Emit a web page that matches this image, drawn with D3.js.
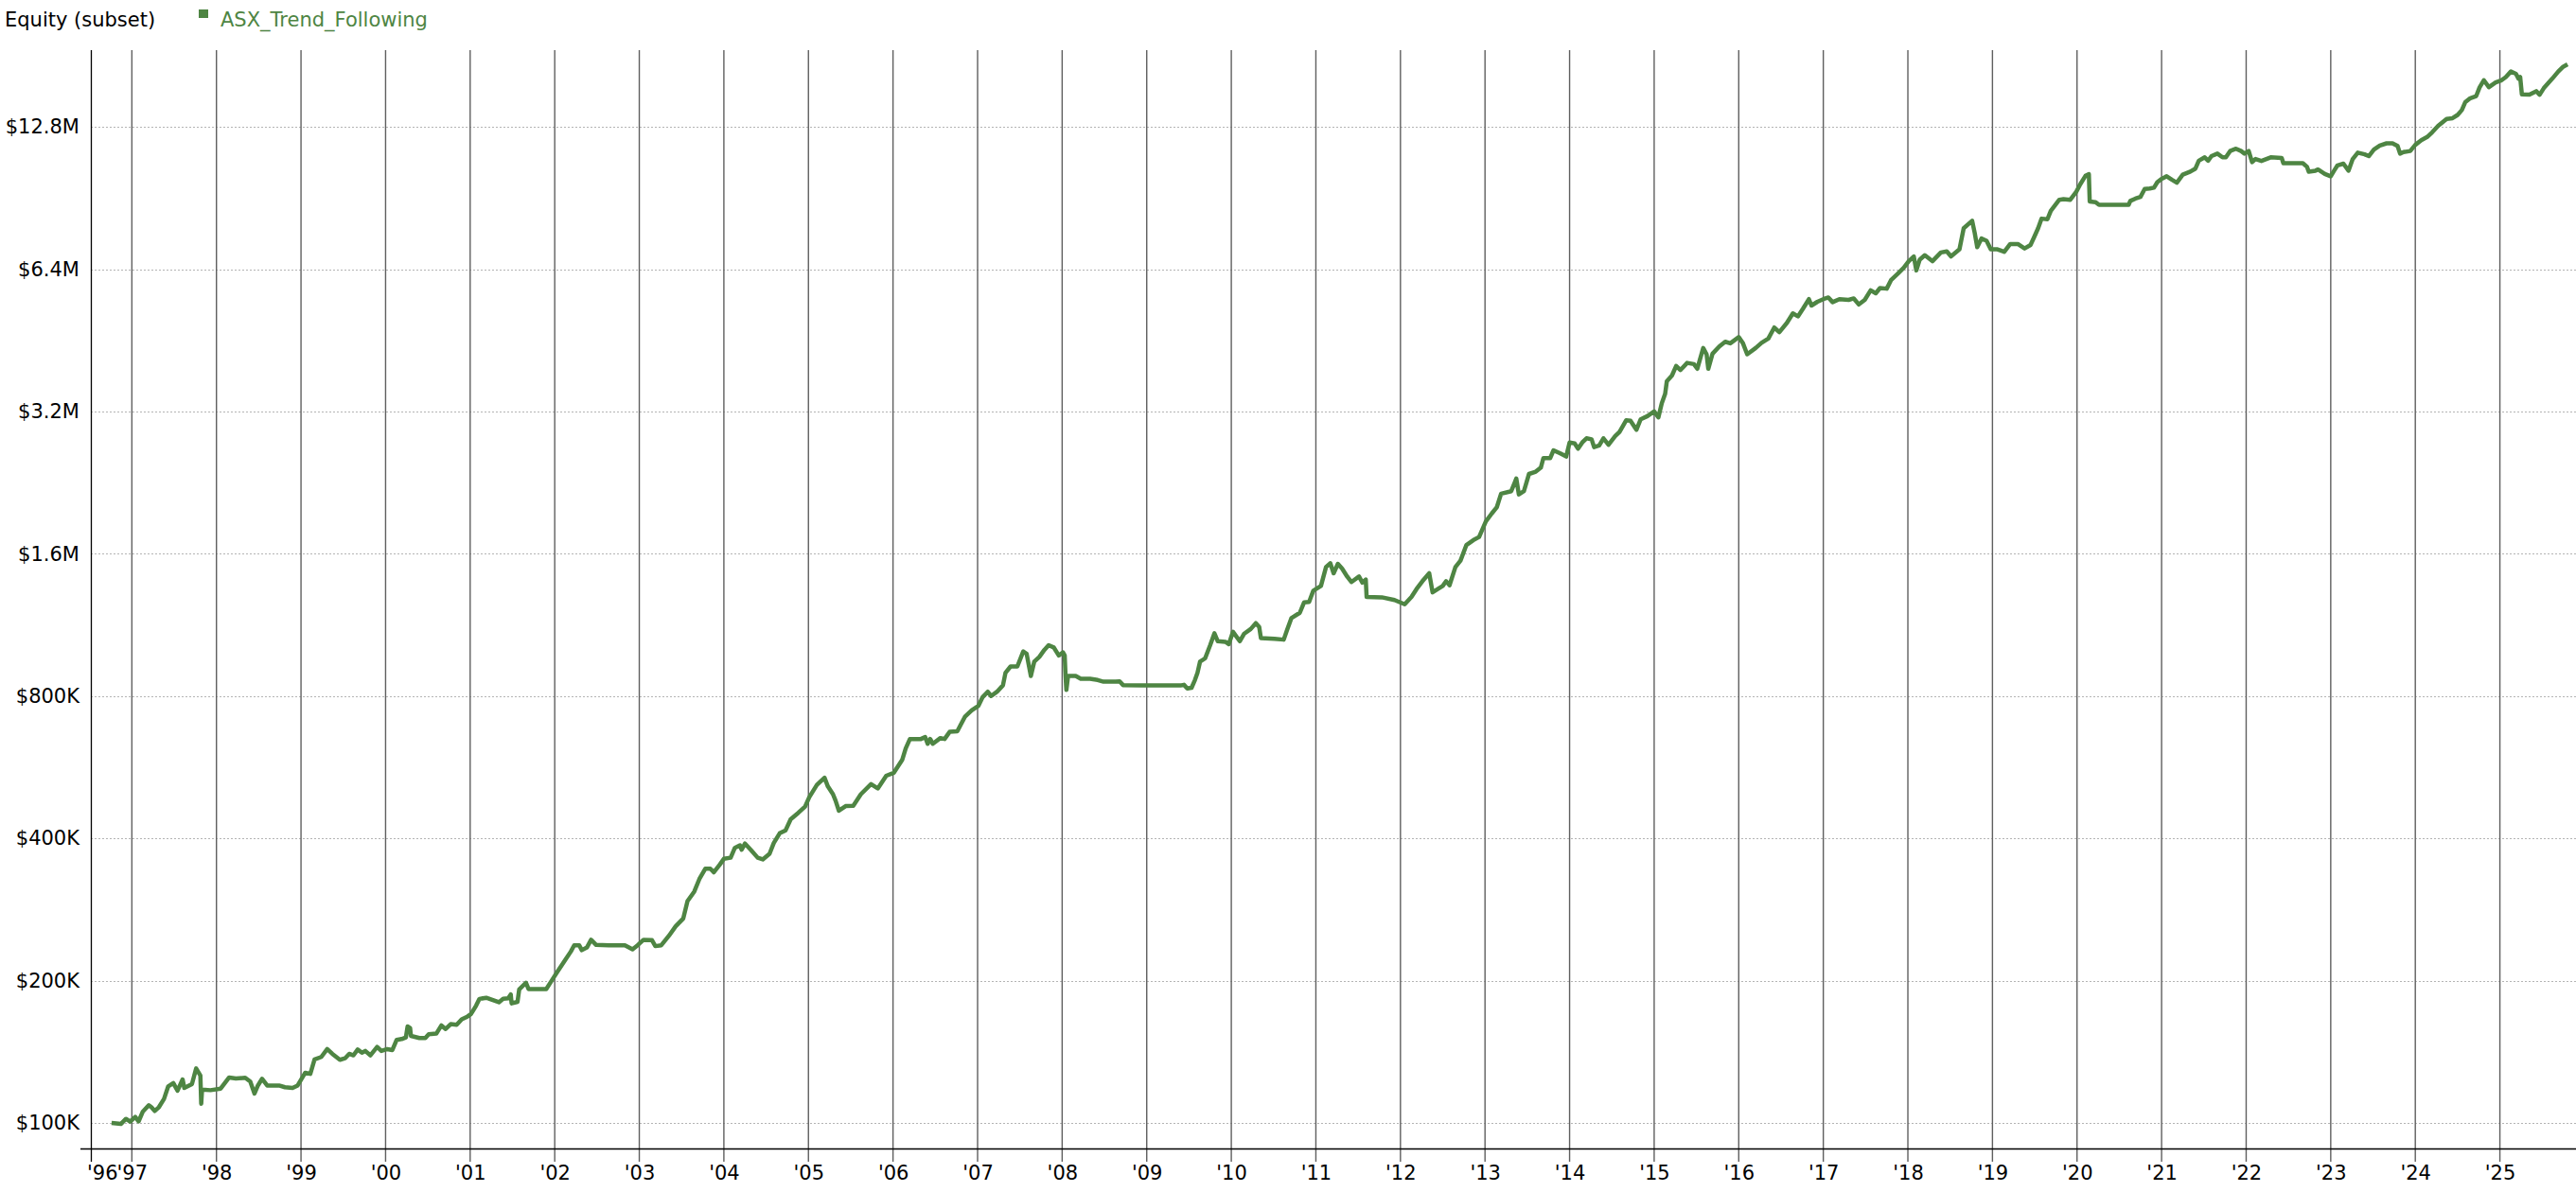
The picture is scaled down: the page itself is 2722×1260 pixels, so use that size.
<!DOCTYPE html>
<html>
<head>
<meta charset="utf-8">
<script src="https://cdn.jsdelivr.net/npm/d3@7"></script>
<style>
  body { margin: 0; background: #fff; }
  svg { display: block; font-family: "DejaVu Sans", Verdana, sans-serif; }
</style>
</head>
<body>
<svg id="chart"></svg>
<script>
// equity curve, decimal year vs equity in $K
const years = [
  1996.76, 1996.87, 1996.93, 1996.98, 1997.04, 1997.08, 1997.13, 1997.20, 1997.23, 1997.27,
  1997.32, 1997.38, 1997.43, 1997.49, 1997.54, 1997.60, 1997.62, 1997.71, 1997.76, 1997.81,
  1997.82, 1997.83, 1997.93, 1998.05, 1998.15, 1998.23, 1998.34, 1998.40, 1998.45, 1998.49,
  1998.54, 1998.60, 1998.74, 1998.81, 1998.90, 1998.96, 1999.01, 1999.05, 1999.11, 1999.16,
  1999.24, 1999.31, 1999.37, 1999.46, 1999.52, 1999.57, 1999.62, 1999.67, 1999.72, 1999.76,
  1999.82, 1999.90, 1999.95, 2000.02, 2000.08, 2000.13, 2000.19, 2000.24, 2000.26, 2000.29,
  2000.30, 2000.40, 2000.47, 2000.51, 2000.60, 2000.66, 2000.71, 2000.77, 2000.84, 2000.90,
  2000.97,
  2001.01, 2001.07, 2001.11, 2001.19, 2001.34, 2001.39, 2001.45, 2001.48, 2001.49, 2001.56,
  2001.58, 2001.66, 2001.69, 2001.90, 2001.96, 2002.04, 2002.12, 2002.19, 2002.23, 2002.29,
  2002.32, 2002.38, 2002.43, 2002.49, 2002.64, 2002.83, 2002.92, 2002.98, 2003.05, 2003.15,
  2003.19, 2003.26, 2003.35, 2003.43, 2003.52, 2003.57, 2003.65, 2003.71, 2003.78, 2003.84,
  2003.88, 2003.95, 2004.00, 2004.08, 2004.13, 2004.19, 2004.21, 2004.25, 2004.32, 2004.40,
  2004.46, 2004.54, 2004.59, 2004.66, 2004.73, 2004.79, 2004.88, 2004.96,
  2005.01, 2005.10, 2005.19, 2005.23, 2005.29, 2005.32, 2005.36, 2005.44, 2005.53, 2005.62,
  2005.74, 2005.82, 2005.92, 2006.01, 2006.11, 2006.15, 2006.20, 2006.33, 2006.38, 2006.41,
  2006.44, 2006.47, 2006.56, 2006.61, 2006.67, 2006.76, 2006.85, 2006.93, 2007.01, 2007.06,
  2007.12, 2007.16, 2007.23, 2007.30, 2007.33, 2007.39, 2007.47, 2007.54, 2007.58, 2007.63,
  2007.67, 2007.73, 2007.79, 2007.84, 2007.90, 2007.96, 2008.01, 2008.03, 2008.04, 2008.05,
  2008.07, 2008.16, 2008.22, 2008.33, 2008.42, 2008.49, 2008.63, 2008.68, 2008.72, 2008.94,
  2009.41, 2009.44, 2009.48, 2009.53, 2009.57, 2009.60, 2009.63, 2009.69, 2009.75, 2009.80,
  2009.84, 2009.93, 2009.97,
  2010.02, 2010.10, 2010.15, 2010.23, 2010.29, 2010.33, 2010.35, 2010.51, 2010.62, 2010.66,
  2010.71, 2010.81, 2010.86, 2010.92, 2010.97, 2011.06, 2011.12, 2011.17, 2011.21, 2011.26,
  2011.31, 2011.37, 2011.42, 2011.51, 2011.55, 2011.59, 2011.60, 2011.78, 2011.93, 2012.05,
  2012.13, 2012.19, 2012.26, 2012.34, 2012.38, 2012.45, 2012.50, 2012.54, 2012.58, 2012.65,
  2012.71, 2012.78, 2012.86, 2012.93, 2013.01, 2013.08, 2013.14, 2013.19, 2013.31, 2013.37,
  2013.40, 2013.46, 2013.52, 2013.60, 2013.66, 2013.69, 2013.77, 2013.81, 2013.89, 2013.96,
  2014.00, 2014.06, 2014.10, 2014.15, 2014.20, 2014.26, 2014.29, 2014.35, 2014.40, 2014.46,
  2014.54, 2014.59, 2014.67, 2014.72, 2014.79, 2014.84, 2014.92,
  2015.00, 2015.05, 2015.09, 2015.13, 2015.15, 2015.21, 2015.26, 2015.31, 2015.39, 2015.47,
  2015.51, 2015.58, 2015.62, 2015.64, 2015.69, 2015.77, 2015.84, 2015.90, 2015.95, 2016.00,
  2016.05, 2016.10, 2016.20, 2016.27, 2016.35, 2016.42, 2016.48, 2016.57, 2016.64, 2016.70,
  2016.76, 2016.83, 2016.86, 2016.93, 2017.00, 2017.06, 2017.11, 2017.19, 2017.30, 2017.36,
  2017.42, 2017.49, 2017.56, 2017.62, 2017.67, 2017.75, 2017.80, 2017.88, 2017.95, 2018.01,
  2018.07, 2018.10, 2018.14, 2018.20, 2018.29, 2018.39, 2018.46, 2018.51, 2018.61, 2018.66,
  2018.76, 2018.79, 2018.82, 2018.87, 2018.93, 2018.98, 2019.06, 2019.14, 2019.21, 2019.30,
  2019.38, 2019.45, 2019.49, 2019.54, 2019.58, 2019.65, 2019.69, 2019.79, 2019.84, 2019.92,
  2019.99, 2020.04,
  2020.10, 2020.14, 2020.15, 2020.22, 2020.26, 2020.61, 2020.63, 2020.69, 2020.75, 2020.80,
  2020.86, 2020.91, 2020.95, 2021.00, 2021.06, 2021.12, 2021.18, 2021.25, 2021.34, 2021.40,
  2021.44, 2021.51, 2021.55, 2021.59, 2021.66, 2021.72, 2021.76, 2021.81, 2021.88, 2021.94,
  2021.98, 2022.03, 2022.07, 2022.11, 2022.18, 2022.29, 2022.42, 2022.44, 2022.67, 2022.72,
  2022.74, 2022.82, 2022.85, 2022.93, 2023.00, 2023.04, 2023.08, 2023.15, 2023.21, 2023.26,
  2023.32, 2023.40, 2023.45, 2023.51, 2023.58, 2023.66, 2023.73, 2023.79, 2023.82, 2023.86,
  2023.94, 2024.00, 2024.07, 2024.14, 2024.20, 2024.27, 2024.37, 2024.44, 2024.50, 2024.55,
  2024.59, 2024.65, 2024.72, 2024.76, 2024.81, 2024.87, 2024.95, 2025.02, 2025.07, 2025.13,
  2025.19, 2025.22, 2025.24, 2025.26, 2025.35, 2025.43, 2025.47, 2025.52, 2025.62, 2025.69,
  2025.75, 2025.80
];

const equityK = [
  100, 99.5, 102, 100.6, 103, 100.8, 105.7, 109, 108, 106,
  108, 112.4, 119.5, 121.4, 117, 123.6, 118.6, 120.8, 130.4, 126,
  109.8, 117.7, 117.3, 118.2, 124.8, 124.2, 124.6, 122.3, 115.4, 120,
  124, 120, 120, 119, 118.6, 120, 124.2, 127.7, 127, 136.2,
  137.9, 143.3, 140, 136, 137, 140, 139, 143, 140.8, 142,
  139, 144.8, 142, 143.3, 142.6, 149.8, 150.5, 151.7, 160, 158.8,
  152.8, 151.2, 151.2, 154, 154.5, 160.8, 158, 161.8, 161.3, 165.7,
  168,
  170, 177, 183, 184, 180, 183, 183.5, 187, 179, 180.4,
  191.6, 198, 192, 192, 199.5, 210, 220.6, 230.4, 237.6, 237.6,
  232, 235, 244, 238, 237.6, 237.6, 233, 237.6, 244, 243.6,
  236.6, 237.6, 248.8, 260.6, 270.8, 294.6, 308.6, 328, 345, 345,
  339, 351.6, 362, 364, 382, 386.6, 378.6, 390, 378, 364,
  361, 371, 391, 410, 416, 439, 453, 467,
  489, 519, 537.6, 515, 496, 481, 457.6, 468, 469, 496,
  521, 510, 542.6, 550.6, 587, 620, 649, 649, 655, 634,
  649, 634, 652, 649, 672, 674, 723, 746, 763, 796,
  817, 800, 817, 843, 896, 924, 924, 994, 983, 882,
  946, 968, 1002, 1025, 1014, 975, 990, 975, 882, 824,
  882, 882, 870, 870, 865, 858, 858, 859, 844, 843,
  843, 845, 830, 833, 865, 896, 946, 961, 1025, 1086,
  1045, 1042, 1030,
  1094, 1045, 1083, 1109, 1141, 1120, 1061, 1057, 1053, 1104,
  1169, 1200, 1262, 1265, 1337, 1368, 1500, 1528, 1455, 1523,
  1488, 1432, 1394, 1432, 1390, 1411, 1296, 1294, 1277, 1251,
  1296, 1347, 1400, 1455, 1326, 1350, 1368, 1400, 1372, 1500,
  1547, 1670, 1709, 1736, 1874, 1947, 2008, 2143, 2170, 2307,
  2136, 2170, 2360, 2386, 2434, 2549, 2549, 2648, 2608, 2569,
  2752, 2738, 2669, 2752, 2808, 2794, 2690, 2711, 2808, 2721,
  2838, 2896, 3066, 3057, 2926, 3080, 3128,
  3200, 3110, 3330, 3488, 3709, 3811, 3994, 3914, 4054, 4030,
  3940, 4359, 4228, 3940, 4240, 4391, 4494, 4460, 4528, 4598,
  4460, 4228, 4359, 4470, 4563, 4816, 4709, 4927, 5159, 5085,
  5280, 5530, 5360, 5460, 5530, 5575, 5450, 5530, 5510, 5550,
  5389, 5510, 5773, 5690, 5837, 5820, 6064, 6256, 6440, 6653,
  6810, 6360, 6704, 6850, 6653, 6941, 6980, 6810, 7050, 7811,
  8102, 7638, 7123, 7430, 7350, 7050, 7050, 6963, 7235, 7235,
  7080, 7200, 7460, 7811, 8185, 8160, 8505, 8973, 9000, 8973,
  9321, 9689,
  10086, 10163, 8896, 8870, 8755, 8755, 8922, 9024, 9100, 9459,
  9480, 9520, 9779, 9933, 10061, 9900, 9754, 10138, 10291, 10445,
  10854, 11034, 10854, 11100, 11238, 11034, 11034, 11379, 11507, 11379,
  11238, 11379, 10778, 10944, 10840, 11034, 11000, 10726, 10726, 10534,
  10291, 10340, 10400, 10180, 10061, 10340, 10611, 10700, 10340, 10944,
  11290, 11200, 11100, 11456, 11686, 11814, 11814, 11660, 11238, 11320,
  11379, 11725, 11993, 12183, 12466, 12860, 13300, 13350, 13565, 13890,
  14428, 14720, 14872, 15510, 16067, 15530, 15897, 16067, 16315, 16757,
  16580, 16190, 16315, 14992, 14970, 15227, 14970, 15462, 16190, 16757,
  17166, 17360
];

const yTicksK = [100, 200, 400, 800, 1600, 3200, 6400, 12800];
const yTickLabels = ["$100K", "$200K", "$400K", "$800K", "$1.6M", "$3.2M", "$6.4M", "$12.8M"];
const xTickYears = d3.range(1997, 2026);
const xStartLabel = "'96";
const seriesName = "ASX_Trend_Following";
const chartTitle = "Equity (subset)";

const lineColor = "#4e8543";
const fontSize = "21px";
const svgWidth = 2722, svgHeight = 1260;
const margin = { top: 53, right: 0, bottom: 46, left: 96 };
const width = svgWidth - margin.left - margin.right;
const height = svgHeight - margin.top - margin.bottom;

const data = years.map((y, i) => ({ year: y, value: equityK[i] }));

const svg = d3.select("#chart")
  .attr("width", svgWidth)
  .attr("height", svgHeight);

svg.append("rect").attr("width", svgWidth).attr("height", svgHeight).attr("fill", "#fff");

const g = svg.append("g")
  .attr("transform", `translate(${margin.left},${margin.top})`);

const x = d3.scaleLinear()
  .domain([1996.515, 2025.90])
  .range([0, width]);

const y = d3.scaleLog()
  .base(2)
  .domain([88.3, 18600])
  .range([height, 0]);

// horizontal dotted grid
g.append("g")
  .selectAll("line")
  .data(yTicksK)
  .enter()
  .append("line")
  .attr("x1", 0)
  .attr("x2", width)
  .attr("y1", d => Math.round(y(d)) + 0.5)
  .attr("y2", d => Math.round(y(d)) + 0.5)
  .attr("stroke", "#b4b4b4")
  .attr("stroke-width", 1)
  .attr("stroke-dasharray", "2,2");

// vertical year lines
g.append("g")
  .selectAll("line")
  .data(xTickYears)
  .enter()
  .append("line")
  .attr("x1", d => x(d))
  .attr("x2", d => x(d))
  .attr("y1", 0)
  .attr("y2", height + 14)
  .attr("stroke", "#5f5f5f")
  .attr("stroke-width", 1.4);

// left axis line (also serves as '96 tick)
g.append("line")
  .attr("x1", 0.5).attr("x2", 0.5)
  .attr("y1", 0).attr("y2", height + 14)
  .attr("stroke", "#000")
  .attr("stroke-width", 1.3);

// bottom axis line
g.append("line")
  .attr("x1", -11).attr("x2", width)
  .attr("y1", height + 0.5).attr("y2", height + 0.5)
  .attr("stroke", "#000")
  .attr("stroke-width", 1.5);

// y labels
const yAxis = d3.axisLeft(y)
  .tickValues(yTicksK)
  .tickFormat((d, i) => yTickLabels[i])
  .tickSize(0)
  .tickPadding(12);

g.append("g")
  .call(yAxis)
  .call(s => s.select(".domain").remove())
  .selectAll("text")
  .attr("fill", "#000")
  .style("font-size", fontSize)
  .style("font-family", "'DejaVu Sans', Verdana, sans-serif");

// x labels
const xAxis = d3.axisBottom(x)
  .tickValues(xTickYears)
  .tickFormat(d => "'" + String(d).slice(2))
  .tickSize(0)
  .tickPadding(18);

g.append("g")
  .attr("transform", `translate(0,${height})`)
  .call(xAxis)
  .call(s => s.select(".domain").remove())
  .selectAll("text")
  .attr("fill", "#000")
  .style("font-size", fontSize)
  .style("font-family", "'DejaVu Sans', Verdana, sans-serif");

g.append("text")
  .attr("x", -4)
  .attr("y", height + 33)
  .attr("text-anchor", "start")
  .style("font-size", fontSize)
  .attr("fill", "#000")
  .text(xStartLabel);

// equity line
const line = d3.line()
  .x(d => x(d.year))
  .y(d => y(d.value));

g.append("path")
  .datum(data)
  .attr("d", line)
  .attr("fill", "none")
  .attr("stroke", lineColor)
  .attr("stroke-width", 4.5)
  .attr("stroke-linejoin", "round");

// legend
svg.append("text")
  .attr("x", 5)
  .attr("y", 28)
  .style("font-size", fontSize)
  .attr("fill", "#000")
  .text(chartTitle);

svg.append("rect")
  .attr("x", 210)
  .attr("y", 10)
  .attr("width", 10)
  .attr("height", 9)
  .attr("fill", lineColor);

svg.append("text")
  .attr("x", 233)
  .attr("y", 28)
  .style("font-size", fontSize)
  .attr("fill", lineColor)
  .text(seriesName);
</script>
</body>
</html>
